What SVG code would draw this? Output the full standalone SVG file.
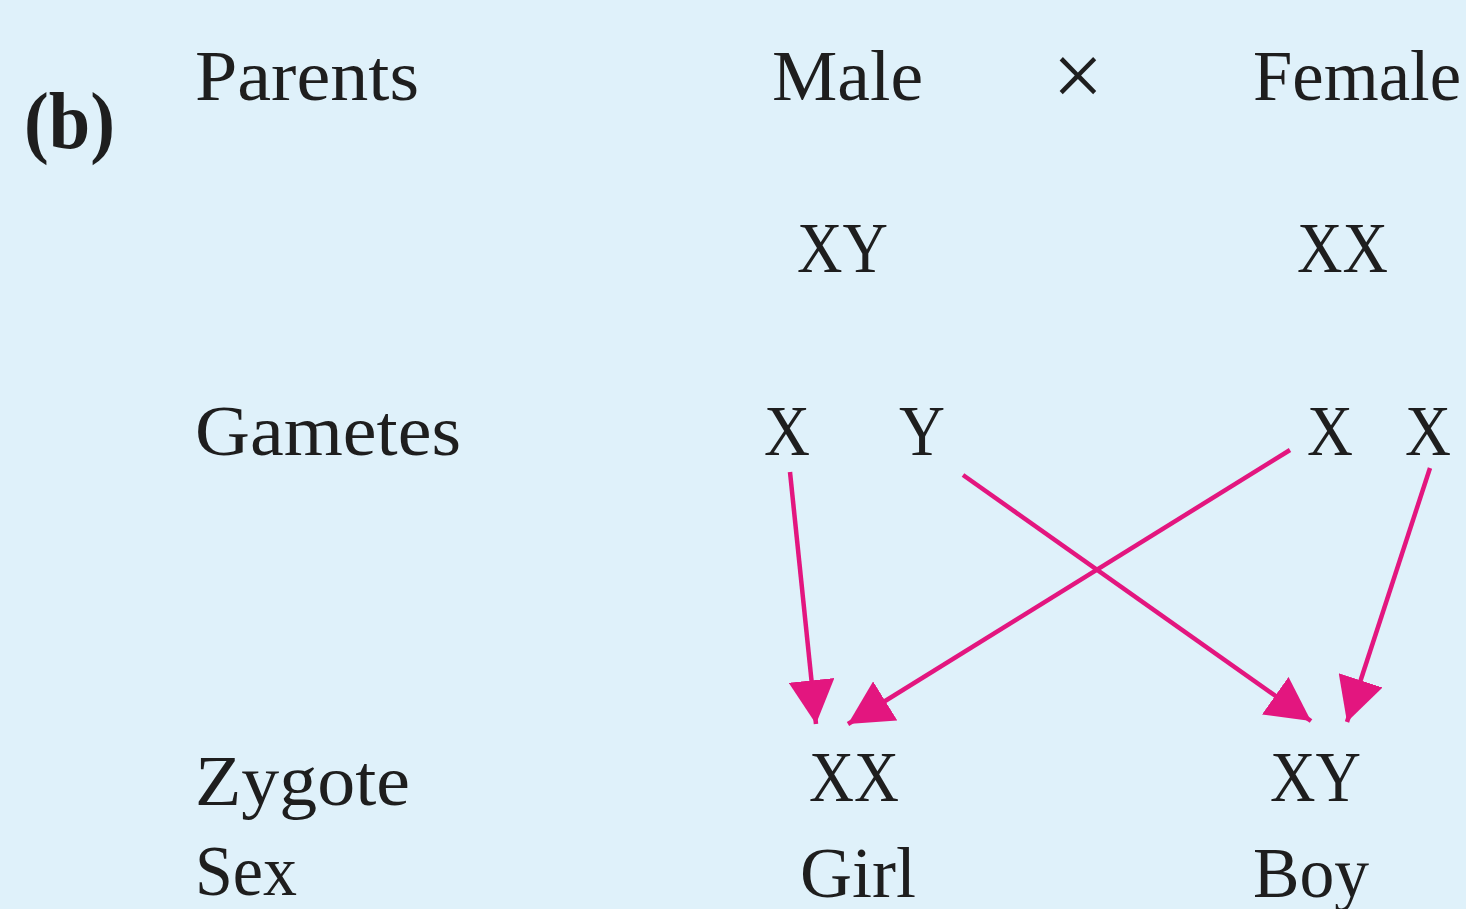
<svg xmlns="http://www.w3.org/2000/svg" width="1466" height="909" viewBox="0 0 1466 909">
<defs>
<style>
.t{font-family:"Liberation Serif","DejaVu Serif",serif;font-size:72px;fill:#1e1e1e}
.b{font-weight:bold;font-size:80px}
.c{stroke:#e3167f;stroke-width:4.5;fill:none}
</style>
<marker id="ah" markerUnits="userSpaceOnUse" markerWidth="46" markerHeight="46" refX="40" refY="21" orient="auto" viewBox="0 0 42 42">
<path d="M0,0 L40,21 L0,42 Z" fill="#e3167f"/>
</marker>
</defs>
<rect width="1466" height="909" fill="#dff1fa"/>
<g id="labels">
<text class="t b" x="24" y="148" textLength="91" lengthAdjust="spacingAndGlyphs">(b)</text>
<text class="t" x="195" y="100" textLength="224" lengthAdjust="spacingAndGlyphs">Parents</text>
<text class="t" x="195" y="455" textLength="266" lengthAdjust="spacingAndGlyphs">Gametes</text>
<text class="t" x="195" y="805" textLength="215" lengthAdjust="spacingAndGlyphs">Zygote</text>
<text class="t" x="195" y="895" textLength="102" lengthAdjust="spacingAndGlyphs">Sex</text>
</g>
<g id="parents">
<text class="t" x="772" y="100" textLength="151" lengthAdjust="spacingAndGlyphs">Male</text>
<text class="t" x="1078" y="106" text-anchor="middle" style="font-size:90px">×</text>
<text class="t" x="1253" y="100" textLength="208" lengthAdjust="spacingAndGlyphs">Female</text>
<text class="t" x="797" y="272" textLength="91" lengthAdjust="spacingAndGlyphs">XY</text>
<text class="t" x="1297" y="272" textLength="91" lengthAdjust="spacingAndGlyphs">XX</text>
</g>
<g id="gametes">
<text class="t" x="764" y="455" textLength="46" lengthAdjust="spacingAndGlyphs">X</text>
<text class="t" x="899" y="455" textLength="46" lengthAdjust="spacingAndGlyphs">Y</text>
<text class="t" x="1307" y="455" textLength="46" lengthAdjust="spacingAndGlyphs">X</text>
<text class="t" x="1405" y="455" textLength="46" lengthAdjust="spacingAndGlyphs">X</text>
</g>
<g id="zygotes">
<text class="t" x="809" y="801" textLength="90" lengthAdjust="spacingAndGlyphs">XX</text>
<text class="t" x="1270" y="801" textLength="91" lengthAdjust="spacingAndGlyphs">XY</text>
<text class="t" x="800" y="897" textLength="116" lengthAdjust="spacingAndGlyphs">Girl</text>
<text class="t" x="1253" y="897" textLength="116" lengthAdjust="spacingAndGlyphs">Boy</text>
</g>
<g id="connectors">
<line class="c" x1="790" y1="472" x2="816" y2="724" marker-end="url(#ah)"/>
<line class="c" x1="1290" y1="450" x2="848" y2="724" marker-end="url(#ah)"/>
<line class="c" x1="963" y1="475" x2="1311" y2="721" marker-end="url(#ah)"/>
<line class="c" x1="1430" y1="468" x2="1347" y2="722" marker-end="url(#ah)"/>
</g>
</svg>
